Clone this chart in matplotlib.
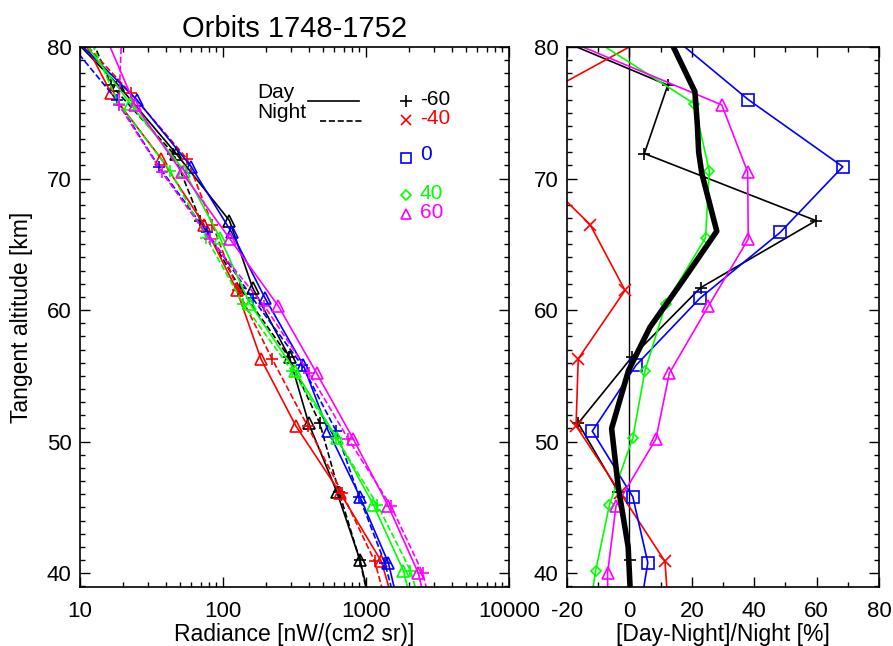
import numpy as np
import matplotlib
matplotlib.use('Agg')
import matplotlib.pyplot as plt
from matplotlib.ticker import MultipleLocator, FixedLocator, NullFormatter

plt.rcParams['font.family'] = ['Liberation Sans', 'DejaVu Sans']
plt.rcParams['axes.unicode_minus'] = False

# latitude bins
lat_labels = ['-60', '-40', '0', '40', '60']
colors = ['black', 'red', 'blue', '#00ff00', 'magenta']
ratio_markers = ['+', 'x', 's', 'D', '^']

# tangent altitudes [km] per latitude
alt_m60 = [82.2, 77.1, 71.9, 66.8, 61.7, 56.4, 51.4, 46.2, 41.0, 35.9]
alt_m40 = [81.5, 76.5, 71.5, 66.5, 61.5, 56.3, 51.2, 46.1, 40.9, 35.8]
alt_0 = [81.0, 76.0, 70.9, 65.9, 60.9, 55.8, 50.8, 45.8, 40.8, 35.7]
alt_40 = [80.8, 75.7, 70.6, 65.5, 60.5, 55.4, 50.3, 45.2, 40.2, 35.1]
alt_60 = [80.6, 75.6, 70.5, 65.4, 60.3, 55.2, 50.2, 45.1, 40.0, 34.9]

# radiance [nW/(cm2 sr)]
day_m60 = [6.5, 18.5, 47, 111, 161, 292, 397, 624, 908, 1170]
night_m60 = [10.5, 16.5, 45, 69.5, 131, 290, 475, 647, 905, 1150]
day_m40 = [9.5, 16.5, 37, 73.6, 125, 184, 323, 660, 1281, 1750]
night_m40 = [8.5, 22.6, 56, 84.2, 127, 220, 390, 680, 1150, 1550]
day_0 = [8.5, 24.9, 60, 115, 197, 365, 545, 908, 1432, 1850]
night_0 = [7.5, 18.0, 35.6, 77.5, 161, 357, 619, 898, 1352, 1800]
day_40 = [10, 22.4, 53.5, 95.2, 154, 318, 624, 1125, 1824, 2400]
night_40 = [11.5, 18.6, 42.6, 76.5, 138, 303, 617, 1202, 2045, 2800]
day_60 = [15.4, 24.2, 51.4, 112, 244, 452, 815, 1432, 2323, 3000]
night_60 = [19.5, 18.7, 37.3, 81, 195, 401, 751, 1496, 2498, 3220]

# (Day-Night)/Night [%]
diff_m60 = [-39, 12.3, 4.8, 59.8, 22.8, 0.7, -16.4, -3.6, 0.2, 0.8]
diff_m40 = [11.5, -27, -34, -12.6, -1.4, -16.4, -17.1, -2.9, 11.4, 12.9]
diff_0 = [12.7, 38.1, 68.4, 48.3, 22.6, 2.1, -11.9, 1.1, 5.9, 2.4]
diff_40 = [-13, 20.7, 25.6, 24.4, 11.7, 5.0, 1.1, -6.4, -10.8, -14.2]
diff_60 = [-21, 29.6, 37.9, 38.1, 25.3, 12.8, 8.5, -4.3, -7.0, -6.8]

# mean difference profile
mean_alt = [81.0, 80.0, 76.6, 74.0, 72.0, 70.4, 66.0, 62.3, 58.7, 55.4, 51.0, 46.6, 42.0, 38.5]
mean_diff = [12.0, 14.1, 21.0, 21.8, 22.2, 23.2, 28.0, 17.3, 6.6, -0.3, -5.7, -3.6, -0.4, 0.3]

alts = [alt_m60, alt_m40, alt_0, alt_40, alt_60]
days = [day_m60, day_m40, day_0, day_40, day_60]
nights = [night_m60, night_m40, night_0, night_40, night_60]
diffs = [diff_m60, diff_m40, diff_0, diff_40, diff_60]

W, H = 893, 646
fig = plt.figure(figsize=(W / 100, H / 100), dpi=100)
ax1 = fig.add_axes([80 / W, (H - 587) / H, 429 / W, 540 / H])
ax2 = fig.add_axes([567 / W, (H - 587) / H, 312 / W, 540 / H])

fs = 16
lfs = 16.5
for ax in (ax1, ax2):
    ax.tick_params(which='both', direction='in', top=True, right=True,
                   labelsize=fs, width=1)
    ax.tick_params(which='major', length=7)
    ax.tick_params(which='minor', length=3.5)
    ax.tick_params(axis='x', pad=10)
    ax.tick_params(axis='y', pad=6)
    for s in ax.spines.values():
        s.set_linewidth(1.2)
    ax.set_ylim(38.95, 80)
    ax.yaxis.set_major_locator(MultipleLocator(10))
    ax.yaxis.set_minor_locator(MultipleLocator(1))

# left panel: radiance profiles
for a, d, n, c in zip(alts, days, nights, colors):
    ax1.plot(d, a, '-', color=c, lw=1.2, marker='^', ms=8, mfc='none', mew=1.2)
    ax1.plot(n, a, '--', color=c, lw=1.2, marker='+', ms=8, mew=1.2)
ax1.set_xscale('log')
ax1.set_xlim(10, 10000)
ax1.xaxis.set_major_locator(FixedLocator([10, 100, 1000, 10000]))
ax1.set_xticklabels(['10', '100', '1000', '10000'])
ax1.xaxis.set_minor_formatter(NullFormatter())
ax1.set_xlabel('Radiance [nW/(cm2 sr)]', fontsize=lfs, labelpad=1)
ax1.set_ylabel('Tangent altitude [km]', fontsize=lfs, labelpad=10)
ax1.set_title('Orbits 1748-1752', fontsize=21, pad=7)

# legend drawn by hand
lgs = 15
tr = ax1.transAxes
ax1.text(0.4126, 0.915, 'Day', transform=tr, fontsize=lgs, va='center')
ax1.plot([0.5315, 0.6503], [0.900, 0.900], '-', color='k', lw=1.2, transform=tr)
ax1.text(0.4126, 0.879, 'Night', transform=tr, fontsize=lgs, va='center')
ax1.plot([0.5594, 0.6573], [0.8635, 0.8635], '--', color='k', lw=1.2, transform=tr)
mark_y = [0.900, 0.8648, 0.795, 0.7259, 0.6902]
text_y = [0.9037, 0.8667, 0.800, 0.7296, 0.6944]
leg_ms = [8, 7, 7, 5, 7]
for my, ty, m, ms, c, lab in zip(mark_y, text_y, ratio_markers, leg_ms, colors, lat_labels):
    ax1.plot([0.7592], [my], m, color=c, ms=ms, mfc='none', mew=1.2, transform=tr)
    ax1.text(0.7925, ty, lab, color=c, transform=tr, fontsize=lgs, va='center')

# right panel: relative day-night difference
ax2.axvline(0, color='k', lw=1.0)
ms_r = [9, 8, 8, 5.5, 8]
for a, df, c, m, ms in zip(alts, diffs, colors, ratio_markers, ms_r):
    ax2.plot(df, a, '-', color=c, lw=1.2, marker=m, ms=ms, mfc='none', mew=1.2)
ax2.plot(mean_diff, mean_alt, '-', color='k', lw=4)
ax2.set_xlim(-20, 80)
ax2.xaxis.set_major_locator(MultipleLocator(20))
ax2.xaxis.set_minor_locator(MultipleLocator(10))
ax2.set_xlabel('[Day-Night]/Night [%]', fontsize=lfs, labelpad=1)

plt.savefig('out.png', dpi=100)
